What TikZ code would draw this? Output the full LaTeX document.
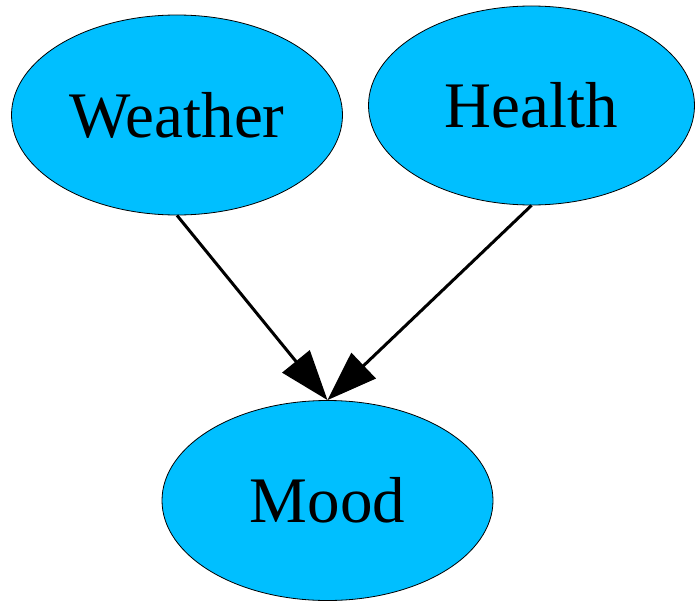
\documentclass[tikz,border=0pt]{standalone}
\usepackage{fontspec}
\setmainfont{Liberation Serif}
\usetikzlibrary{shapes.geometric,arrows.meta}
\definecolor{nodeblue}{HTML}{00BFFF}
\tikzset{
  var/.style={ellipse, draw=black, line width=0.8pt, fill=nodeblue, inner sep=0pt,
    font=\fontsize{65}{72}\selectfont},
  link/.style={line width=3pt, -{Triangle[length=50pt,width=35pt]}}
}
\begin{document}
\begin{tikzpicture}[x=1pt,y=-1pt]
\useasboundingbox (0,0) rectangle (695,602);
\node[var, minimum width=331pt, minimum height=200pt] (w) at (177,115) {Weather};
\node[var, minimum width=326pt, minimum height=199pt] (h) at (531.5,105.5) {Health};
\node[var, minimum width=331pt, minimum height=200pt] (m) at (327.5,500.5) {Mood};
\draw[link] (w.south) -- (m.north);
\draw[link] (h.south) -- (m.north);
\end{tikzpicture}
\end{document}
